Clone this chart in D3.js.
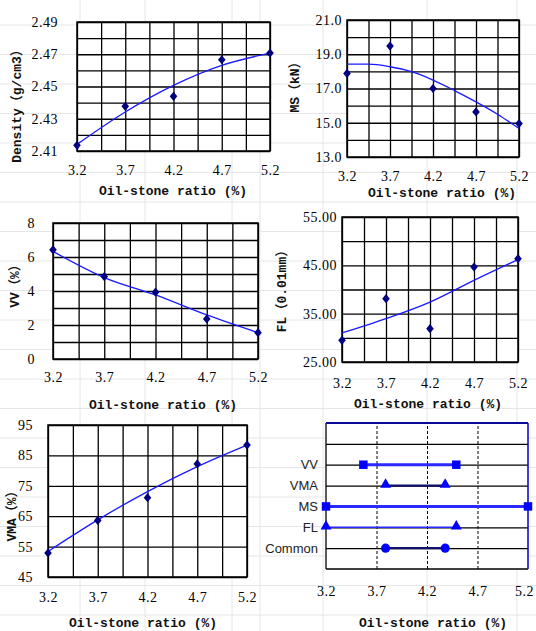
<!DOCTYPE html>
<html><head><meta charset="utf-8">
<script src="https://cdn.jsdelivr.net/npm/d3@7"></script>
<style>body{margin:0;background:#fff}svg{display:block}</style>
</head><body>
<svg id="c" width="536" height="631"></svg>
<script>
// ---------- data ----------
const oilStoneRatio = [3.2, 3.7, 4.2, 4.7, 5.2];
const xTickValues = [3.2, 3.7, 4.2, 4.7, 5.2];
const densityValues = [2.4135, 2.4377, 2.4439, 2.4666, 2.4707];
const densityTrend  = [2.4141, 2.4342, 2.4507, 2.4631, 2.4707];
const densityTicks  = [2.41, 2.43, 2.45, 2.47, 2.49];
const msValues = [17.88, 19.48, 17.0, 15.63, 14.95];
const msTrendX = [3.2, 3.45, 3.7, 3.95, 4.2, 4.45, 4.7, 4.95, 5.2];
const msTrend  = [18.42, 18.42, 18.27, 17.98, 17.49, 16.88, 16.22, 15.5, 14.66];
const msTicks  = [13, 15, 17, 19, 21];
const vvValues = [6.42, 4.85, 3.93, 2.36, 1.55];
const vvTrend  = [6.33, 4.79, 3.77, 2.59, 1.55];
const vvTicks  = [0, 2, 4, 6, 8];
const flValues = [29.48, 38.1, 31.9, 44.66, 46.38];
const flTrend  = [31.0, 33.97, 37.4, 41.9, 46.2];
const flTicks  = [25, 35, 45, 55];
const vmaValues = [52.9, 63.6, 71.1, 82.2, 88.4];
const vmaTrend  = [53.4, 63.8, 73.1, 81.3, 88.4];
const vmaTicks  = [45, 55, 65, 75, 85, 95];
const rangeCategories = ["VV", "VMA", "MS", "FL", "Common"];
const rangeStart = [3.57, 3.79, 3.2, 3.2, 3.79];
const rangeEnd   = [4.49, 4.38, 5.2, 4.49, 4.38];
const rangeMarkers = ["square", "triangle", "square", "triangle", "circle"];
const xTitle = "Oil-stone ratio (%)";

// ---------- layout ----------
const svg = d3.select("#c");
const tickFont = "'Liberation Serif', 'Noto Serif', serif";
const titleFont = "'Liberation Mono', 'DejaVu Sans Mono', 'Noto Sans CJK SC', monospace";

const bg = svg.append("g");
d3.range(25, 631, 29.5).forEach(y => bg.append("line").attr("x1",0).attr("x2",536).attr("y1",y).attr("y2",y).attr("stroke","#e6e6e6").attr("stroke-width",1));
[80, 145, 232, 260, 323, 427, 517].forEach(x => bg.append("line").attr("x1",x).attr("x2",x).attr("y1",0).attr("y2",631).attr("stroke","#e6e6e6").attr("stroke-width",1));

const panels = [
  {vals: densityValues, trendX: oilStoneRatio, trend: densityTrend, ticks: densityTicks, step: 0.01, fmt: ".2f",
   box: [77, 22, 270, 151], tickRight: 58, xLabY: 171, xt: [173, 195], title: "Density（g/cm3）", yt: [17, 103]},
  {vals: msValues, trendX: msTrendX, trend: msTrend, ticks: msTicks, step: 1, fmt: ".1f",
   box: [347, 20, 519, 157], tickRight: 342, xLabY: 177, xt: [442, 197], title: "MS（kN）", yt: [295, 84]},
  {vals: vvValues, trendX: oilStoneRatio, trend: vvTrend, ticks: vvTicks, step: 1, fmt: "d",
   box: [53, 223, 258, 359], tickRight: 35, xLabY: 378, xt: [163, 409], title: "VV（%）", yt: [15, 283]},
  {vals: flValues, trendX: oilStoneRatio, trend: flTrend, ticks: flTicks, step: 5, fmt: ".2f",
   box: [342, 217, 518, 362], tickRight: 337, xLabY: 384, xt: [428, 408], title: "FL（0.01mm）", yt: [282, 288]},
  {vals: vmaValues, trendX: oilStoneRatio, trend: vmaTrend, ticks: vmaTicks, step: 10, fmt: "d",
   box: [48, 425, 247, 577], tickRight: 33, xLabY: 598, xt: [143, 627], title: "VMA（%）", yt: [12, 513]}
];

const diamond = {draw(ctx, size){ const h = 4.6, w = 3.8; ctx.moveTo(0,-h); ctx.lineTo(w,0); ctx.lineTo(0,h); ctx.lineTo(-w,0); ctx.closePath(); }};

function xGrid(){ return d3.range(0, 9).map(i => 3.2 + i * 0.25); }

panels.forEach(p => {
  const [x0, y0, x1, y1] = p.box;
  const x = d3.scaleLinear().domain([3.2, 5.2]).range([x0, x1]);
  const yMin = d3.min(p.ticks), yMax = d3.max(p.ticks);
  const y = d3.scaleLinear().domain([yMin, yMax]).range([y1, y0]);
  const g = svg.append("g");
  g.append("rect").attr("x", x0).attr("y", y0).attr("width", x1 - x0).attr("height", y1 - y0).attr("fill", "#fff");
  const yGridVals = d3.range(0, Math.round((yMax - yMin) / p.step) + 1).map(i => yMin + i * p.step);
  const gx = g.append("g").attr("transform", `translate(0,${y1})`)
    .call(d3.axisBottom(x).tickValues(xGrid()).tickSize(-(y1 - y0)).tickFormat(""));
  const gy = g.append("g").attr("transform", `translate(${x0},0)`)
    .call(d3.axisLeft(y).tickValues(yGridVals).tickSize(-(x1 - x0)).tickFormat(""));
  [gx, gy].forEach(a => { a.select(".domain").remove(); a.selectAll("line").attr("stroke", "#000").attr("stroke-width", 1.3); });
  g.append("rect").attr("x", x0).attr("y", y0).attr("width", x1 - x0).attr("height", y1 - y0)
    .attr("fill", "none").attr("stroke", "#000").attr("stroke-width", 1.5);
  const lx = g.append("g").attr("transform", `translate(0,${p.xLabY - 6})`)
    .call(d3.axisBottom(x).tickValues(xTickValues).tickSize(0).tickPadding(0).tickFormat(d3.format(".1f")));
  const ly = g.append("g").attr("transform", `translate(${p.tickRight},0)`)
    .call(d3.axisLeft(y).tickValues(p.ticks).tickSize(0).tickPadding(0).tickFormat(d3.format(p.fmt)));
  [lx, ly].forEach(a => { a.select(".domain").remove(); a.selectAll("text").attr("font-family", tickFont).attr("font-size", 14).attr("fill", "#000").attr("letter-spacing", 0.5); });
  g.append("text").attr("x", p.xt[0]).attr("y", p.xt[1]).attr("text-anchor", "middle")
    .attr("font-family", titleFont).attr("font-size", 13).attr("font-weight", "bold").attr("fill", "#111").text(xTitle);
  g.append("text").attr("transform", `translate(${p.yt[0]},${p.yt[1]}) rotate(-90)`).attr("text-anchor", "middle")
    .attr("dominant-baseline", "central").attr("font-family", titleFont).attr("font-size", 13).attr("font-weight", "bold")
    .attr("fill", "#111").text(p.title);
  const line = d3.line().x(d => x(d[0])).y(d => y(d[1])).curve(d3.curveMonotoneX);
  g.append("path").datum(d3.zip(p.trendX, p.trend)).attr("d", line)
    .attr("fill", "none").attr("stroke", "#1a1aff").attr("stroke-width", 1.3);
  g.selectAll("path.pt").data(d3.zip(oilStoneRatio, p.vals)).join("path").attr("class", "pt")
    .attr("transform", d => `translate(${x(d[0])},${y(d[1])})`)
    .attr("d", d3.symbol().type(diamond)()).attr("fill", "#00007f");
});

// ---------- range panel ----------
(function(){
  const [x0, y0, x1, y1] = [326, 423, 528, 569];
  const x = d3.scaleLinear().domain([3.2, 5.2]).range([x0, x1]);
  const rows = ["_top", "_blank", ...rangeCategories, "_bottom"];
  const y = d3.scalePoint().domain(rows).range([y0, y1]);
  const g = svg.append("g");
  g.append("rect").attr("x", x0).attr("y", y0).attr("width", x1 - x0).attr("height", y1 - y0).attr("fill", "#fff");
  const gy = g.append("g").attr("transform", `translate(${x0},0)`)
    .call(d3.axisLeft(y).tickValues(rows.slice(1, -1)).tickSize(-(x1 - x0)).tickFormat(""));
  gy.select(".domain").remove();
  gy.selectAll("line").attr("stroke", "#000").attr("stroke-width", 1.2);
  const gx = g.append("g").attr("transform", `translate(0,${y1})`)
    .call(d3.axisBottom(x).tickValues([3.7, 4.2, 4.7]).tickSize(-(y1 - y0)).tickFormat(""));
  gx.select(".domain").remove();
  gx.selectAll("line").attr("stroke", "#000").attr("stroke-width", 1).attr("stroke-dasharray", "3,2");
  g.append("line").attr("x1", x0).attr("x2", x0).attr("y1", y0).attr("y2", y1).attr("stroke", "#000").attr("stroke-width", 1.3);
  g.append("line").attr("x1", x0).attr("x2", x1).attr("y1", y1).attr("y2", y1).attr("stroke", "#000").attr("stroke-width", 1.3);
  g.append("line").attr("x1", x1).attr("x2", x1).attr("y1", y0).attr("y2", y1).attr("stroke", "#1010cc").attr("stroke-width", 1.6);
  g.append("line").attr("x1", x0).attr("x2", x1).attr("y1", y0).attr("y2", y0).attr("stroke", "#0a0a99").attr("stroke-width", 2.2);

  const lineColors = {VV: "#2a2aff", VMA: "#10106a", MS: "#2a2aff", FL: "#2a2aff", Common: "#10106a"};
  const lineWidths = {VV: 3, VMA: 2.2, MS: 3, FL: 1.6, Common: 2.2};
  rangeCategories.forEach((c, i) => {
    const yy = y(c);
    g.append("line").attr("x1", x(rangeStart[i])).attr("x2", x(rangeEnd[i])).attr("y1", yy).attr("y2", yy)
      .attr("stroke", lineColors[c]).attr("stroke-width", lineWidths[c]);
    const sym = rangeMarkers[i] === "square" ? d3.symbolSquare : rangeMarkers[i] === "triangle" ? d3.symbolTriangle : d3.symbolCircle;
    const size = rangeMarkers[i] === "square" ? 72 : rangeMarkers[i] === "triangle" ? 52 : 66;
    [rangeStart[i], rangeEnd[i]].forEach(v => {
      g.append("path").attr("transform", `translate(${x(v)},${yy + (rangeMarkers[i] === "triangle" ? -1 : 0)})`)
        .attr("d", d3.symbol().type(sym).size(size)()).attr("fill", "#0000ff");
    });
  });
  const ly = g.append("g").attr("transform", `translate(318,0)`)
    .call(d3.axisLeft(y).tickValues(rangeCategories).tickSize(0).tickPadding(0));
  ly.select(".domain").remove();
  ly.selectAll("text").attr("font-family", "'Liberation Sans', Arial, sans-serif").attr("font-size", 13).attr("fill", "#222");
  const lx = g.append("g").attr("transform", `translate(0,${592 - 6})`)
    .call(d3.axisBottom(x).tickValues(xTickValues).tickSize(0).tickPadding(0).tickFormat(d3.format(".1f")));
  lx.select(".domain").remove();
  lx.selectAll("text").attr("font-family", tickFont).attr("font-size", 14).attr("fill", "#000").attr("letter-spacing", 0.5);
  lx.selectAll("text").filter(d => d === 5.2).attr("dx", "-4");
  g.append("text").attr("x", 433).attr("y", 627).attr("text-anchor", "middle")
    .attr("font-family", titleFont).attr("font-size", 13).attr("font-weight", "bold").attr("fill", "#111").text(xTitle);
})();
</script>
</body></html>
